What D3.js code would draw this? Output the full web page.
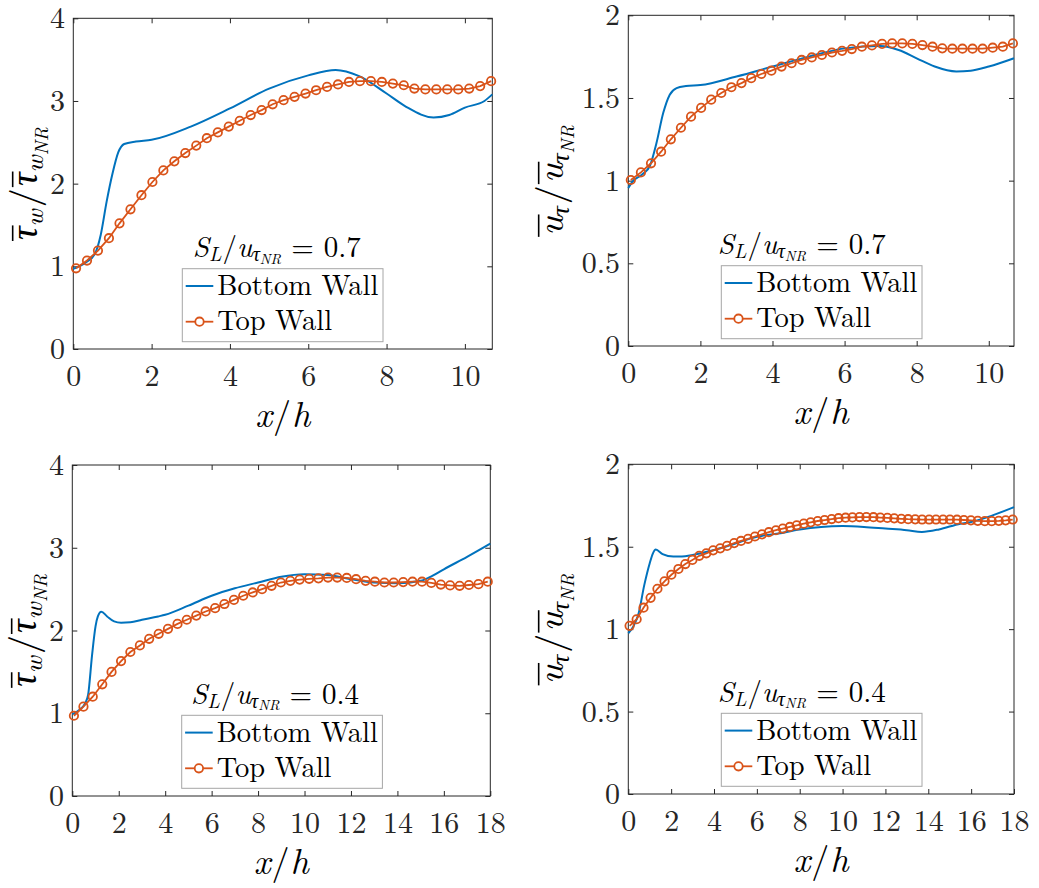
<!DOCTYPE html>
<html><head><meta charset="utf-8">
<script src="https://cdn.jsdelivr.net/npm/d3@7"></script>
</head><body style="margin:0">
<svg id="c" width="1039" height="888"></svg>
<script>
// ---------------- data ----------------
const xTicksShort = [0, 2, 4, 6, 8, 10];
const xTicksLong = [0, 2, 4, 6, 8, 10, 12, 14, 16, 18];
const yTicksTau = [0, 1, 2, 3, 4];
const yTicksU = [0, 0.5, 1, 1.5, 2];
const seriesNames = ["Bottom Wall", "Top Wall"];
const ratioLabels = ["0.7", "0.4"];

// Panel 1: tau_w ratio, S_L/u = 0.7
const bx1 = [0,0.3,0.55,0.7,0.85,1.0,1.15,1.3,1.6,2,3,4,5,6,6.7,7.3,8,8.5,9.2,9.6,10,10.5,10.7];
const by1 = [0.97,1.04,1.15,1.38,1.78,2.12,2.38,2.48,2.51,2.53,2.69,2.91,3.15,3.31,3.375,3.30,3.09,2.93,2.80,2.83,2.92,3.00,3.08];
const xTopShort = [0.07,0.35,0.63,0.91,1.18,1.46,1.74,2.02,2.30,2.58,2.86,3.14,3.41,3.69,3.97,4.25,4.53,4.81,5.09,5.37,5.65,5.93,6.20,6.48,6.76,7.04,7.32,7.60,7.88,8.16,8.44,8.71,8.99,9.27,9.55,9.83,10.11,10.39,10.67];
const tt1 = [0.976,1.07,1.19,1.34,1.52,1.69,1.86,2.02,2.16,2.27,2.37,2.46,2.55,2.62,2.69,2.76,2.83,2.89,2.96,3.01,3.05,3.09,3.13,3.17,3.20,3.23,3.24,3.24,3.23,3.21,3.19,3.15,3.14,3.14,3.14,3.14,3.15,3.18,3.24];

// Panel 2: u_tau ratio, S_L/u = 0.7
const bx2 = [0,0.1,0.4,0.6,0.78,0.97,1.15,1.34,1.6,2,3,4,5,6,7,7.5,8,8.5,9.1,9.5,10,10.7];
const by2 = [0.955,0.99,1.04,1.09,1.226,1.41,1.52,1.56,1.572,1.578,1.63,1.69,1.75,1.80,1.815,1.79,1.74,1.69,1.66,1.665,1.69,1.74];
const tt2 = [1.004,1.05,1.105,1.175,1.25,1.32,1.387,1.44,1.49,1.53,1.565,1.59,1.62,1.645,1.665,1.69,1.71,1.73,1.745,1.76,1.775,1.785,1.796,1.81,1.818,1.827,1.83,1.83,1.827,1.82,1.81,1.80,1.798,1.798,1.798,1.798,1.804,1.81,1.83];

// Panel 3: tau_w ratio, S_L/u = 0.4
const bx3 = [0,0.3,0.55,0.68,0.85,1.0,1.1,1.25,1.5,1.8,2.1,2.5,3,3.7,4,5,6,7,8,9,10,11,12,13,14,15,15.5,16,17,18];
const by3 = [0.99,1.04,1.12,1.22,1.7,2.05,2.17,2.227,2.17,2.11,2.095,2.10,2.13,2.17,2.19,2.30,2.42,2.51,2.58,2.65,2.68,2.67,2.62,2.58,2.57,2.60,2.66,2.74,2.89,3.05];
const xTop3 = [0.07,0.48,0.88,1.29,1.69,2.10,2.50,2.91,3.31,3.72,4.12,4.53,4.93,5.34,5.74,6.15,6.55,6.96,7.36,7.77,8.17,8.58,8.98,9.39,9.79,10.20,10.60,11.01,11.41,11.82,12.22,12.63,13.03,13.44,13.84,14.25,14.65,15.06,15.46,15.87,16.27,16.68,17.08,17.49,17.89];
const tt3 = [0.97,1.08,1.20,1.35,1.50,1.63,1.74,1.82,1.90,1.96,2.02,2.08,2.13,2.18,2.23,2.27,2.32,2.37,2.42,2.46,2.50,2.54,2.58,2.60,2.615,2.625,2.63,2.64,2.64,2.635,2.62,2.60,2.59,2.58,2.58,2.585,2.59,2.59,2.575,2.555,2.545,2.54,2.55,2.56,2.59];

// Panel 4: u_tau ratio, S_L/u = 0.4
const bx4 = [0,0.25,0.47,0.75,1.0,1.15,1.28,1.6,2.1,2.5,3,4,5,6,7,8,9,10,11,12,13,13.7,14.5,15.5,16,17,18];
const by4 = [0.975,1.02,1.09,1.27,1.40,1.46,1.483,1.455,1.44,1.44,1.45,1.48,1.52,1.56,1.58,1.605,1.62,1.625,1.62,1.61,1.60,1.59,1.605,1.64,1.65,1.69,1.74];
const xTop4 = [0.06,0.39,0.71,1.04,1.36,1.69,2.01,2.34,2.66,2.99,3.31,3.64,3.96,4.29,4.61,4.94,5.26,5.59,5.91,6.24,6.56,6.89,7.21,7.54,7.86,8.19,8.51,8.84,9.16,9.49,9.81,10.14,10.46,10.79,11.11,11.44,11.76,12.09,12.41,12.74,13.06,13.39,13.71,14.04,14.36,14.69,15.01,15.34,15.66,15.99,16.31,16.64,16.96,17.29,17.61,17.94];
const tt4 = [1.02,1.06,1.13,1.19,1.245,1.29,1.33,1.365,1.395,1.42,1.445,1.46,1.478,1.49,1.505,1.522,1.535,1.548,1.562,1.575,1.588,1.60,1.61,1.62,1.63,1.64,1.648,1.656,1.662,1.668,1.673,1.676,1.678,1.68,1.68,1.679,1.677,1.675,1.672,1.669,1.667,1.666,1.665,1.665,1.665,1.665,1.665,1.664,1.662,1.66,1.657,1.655,1.655,1.657,1.66,1.665];

// ---------------- layout ----------------
const FONT = 'Latin Modern Roman, Liberation Serif, serif';
const GREEK = 'Liberation Serif, serif';
const BLUE = '#0072BD', ORANGE = '#D95319', AX = '#262626';
const svg = d3.select('#c');

const panels = [
  {l:73.3, r:492.3, t:18.3, b:349, xMax:10.7, yMax:4, xT:xTicksShort, yT:yTicksTau, bx:bx1, by:by1, tx:xTopShort, ty:tt1, kind:'tau', ratio:ratioLabels[0], lx:37, leg:{x:182.3,y:268.7}, tit:{x:192.7,y:257}},
  {l:628.3, r:1014, t:15.3, b:346, xMax:10.7, yMax:2, xT:xTicksShort, yT:yTicksU, bx:bx2, by:by2, tx:xTopShort, ty:tt2, kind:'u', ratio:ratioLabels[0], lx:563, leg:{x:721.3,y:265.7}, tit:{x:717.7,y:254}},
  {l:72.3, r:490.3, t:465, b:796, xMax:18, yMax:4, xT:xTicksLong, yT:yTicksTau, bx:bx3, by:by3, tx:xTop3, ty:tt3, kind:'tau', ratio:ratioLabels[1], lx:36, leg:{x:181.7,y:715.3}, tit:{x:191,y:703.5}},
  {l:628.3, r:1014, t:464.3, b:794, xMax:18, yMax:2, xT:xTicksLong, yT:yTicksU, bx:bx4, by:by4, tx:xTop4, ty:tt4, kind:'u', ratio:ratioLabels[1], lx:563, leg:{x:721.3,y:713.3}, tit:{x:717.7,y:701.5}}
];

// Builds a math-like text from segments; overlined segments get a drawn bar.
function mathText(parent, segs, fs, anchor) {
  const g = parent.append('g');
  const t = g.append('text').attr('font-family', FONT).attr('font-size', fs).attr('fill', '#000')
    .attr('text-anchor', anchor || 'start');
  let cur = 0, idx = 0;
  const bars = [];
  segs.forEach(s => {
    const sp = t.append('tspan').text(s.t);
    if (s.fs) sp.attr('font-size', s.fs);
    if (s.it) sp.attr('font-style', 'italic');
    if (s.gr) sp.attr('font-family', GREEK);
    const sh = s.sh || 0;
    if (sh !== cur) sp.attr('dy', sh - cur);
    cur = sh;
    if (s.dx) sp.attr('dx', s.dx);
    if (s.ov) bars.push([idx, s.t.length, (s.fs || fs)]);
    idx += s.t.length;
  });
  const node = t.node();
  bars.forEach(([i, n, f]) => {
    const a = node.getStartPositionOfChar(i), b = node.getEndPositionOfChar(i + n - 1);
    g.append('line').attr('x1', a.x - 1).attr('x2', b.x + 1)
      .attr('y1', a.y - 0.64 * f).attr('y2', a.y - 0.64 * f)
      .attr('stroke', '#000').attr('stroke-width', 1.6);
  });
  return g;
}

panels.forEach(p => {
  const g = svg.append('g');
  const x = d3.scaleLinear().domain([0, p.xMax]).range([p.l, p.r]);
  const y = d3.scaleLinear().domain([0, p.yMax]).range([p.b, p.t]);

  // axes
  const fmt = d => String(d);
  const ax = [
    g.append('g').attr('transform', `translate(0,${p.b})`).call(d3.axisBottom(x).tickValues(p.xT).tickFormat(fmt).tickSize(-5).tickPadding(15.5)),
    g.append('g').attr('transform', `translate(0,${p.t})`).call(d3.axisTop(x).tickValues(p.xT).tickFormat('').tickSize(-5)),
    g.append('g').attr('transform', `translate(${p.l},0)`).call(d3.axisLeft(y).tickValues(p.yT).tickFormat(fmt).tickSize(-5).tickPadding(8.3)),
    g.append('g').attr('transform', `translate(${p.r},0)`).call(d3.axisRight(y).tickValues(p.yT).tickFormat('').tickSize(-5))
  ];
  ax.forEach(a => {
    a.attr('font-family', FONT);
    a.select('.domain').remove();
    a.selectAll('line').attr('stroke', AX).attr('stroke-width', 1);
    a.selectAll('text').attr('font-family', FONT).attr('font-size', 30).attr('fill', AX);
  });
  g.append('rect').attr('x', p.l).attr('y', p.t).attr('width', p.r - p.l).attr('height', p.b - p.t)
    .attr('fill', 'none').attr('stroke', AX).attr('stroke-width', 1);

  // bottom wall line
  const bData = p.bx.map((v, i) => [v, p.by[i]]);
  g.append('path').datum(bData)
    .attr('d', d3.line().x(d => x(d[0])).y(d => y(d[1])).curve(d3.curveMonotoneX))
    .attr('fill', 'none').attr('stroke', BLUE).attr('stroke-width', 2);

  // top wall line + markers
  const tData = p.tx.map((v, i) => [v, p.ty[i]]);
  g.append('path').datum(tData)
    .attr('d', d3.line().x(d => x(d[0])).y(d => y(d[1])))
    .attr('fill', 'none').attr('stroke', ORANGE).attr('stroke-width', 1.8);
  g.selectAll('circle.m').data(tData).enter().append('circle')
    .attr('cx', d => x(d[0])).attr('cy', d => y(d[1])).attr('r', 4.2)
    .attr('fill', 'none').attr('stroke', ORANGE).attr('stroke-width', 1.8);

  // legend
  const L = p.leg;
  g.append('rect').attr('x', L.x).attr('y', L.y).attr('width', 200.7).attr('height', 73)
    .attr('fill', '#fff').attr('stroke', '#a6a6a6').attr('stroke-width', 1);
  g.append('line').attr('x1', L.x + 3.4).attr('x2', L.x + 31).attr('y1', L.y + 17.3).attr('y2', L.y + 17.3)
    .attr('stroke', BLUE).attr('stroke-width', 2);
  g.append('line').attr('x1', L.x + 3.4).attr('x2', L.x + 31).attr('y1', L.y + 53).attr('y2', L.y + 53)
    .attr('stroke', ORANGE).attr('stroke-width', 1.8);
  g.append('circle').attr('cx', L.x + 17.2).attr('cy', L.y + 53).attr('r', 4.2)
    .attr('fill', '#fff').attr('stroke', ORANGE).attr('stroke-width', 1.8);
  g.append('text').attr('x', L.x + 35).attr('y', L.y + 26.5).attr('font-family', FONT).attr('font-size', 28.5)
    .attr('fill', '#000').text(seriesNames[0]);
  g.append('text').attr('x', L.x + 35).attr('y', L.y + 61.3).attr('font-family', FONT).attr('font-size', 28.5)
    .attr('fill', '#000').text(seriesNames[1]);

  // legend title
  mathText(g, [
    {t:'S', it:1}, {t:'L', it:1, fs:20, sh:4}, {t:'/', sh:0, dx:1}, {t:'u', it:1},
    {t:'τ', it:1, gr:1, fs:20, sh:4}, {t:'NR', it:1, fs:14.5, sh:6.5}, {t:'=', sh:0, dx:10}, {t:p.ratio, dx:10}
  ], 29).attr('transform', `translate(${p.tit.x},${p.tit.y})`);

  // x label
  mathText(g, [{t:'x', it:1}, {t:'/', dx:1}, {t:'h', it:1, dx:1}], 36, 'middle')
    .attr('transform', `translate(${(p.l + p.r) / 2},${p.b + 78})`);

  // y label
  const ySegs = p.kind === 'tau'
    ? [{t:'τ', it:1, gr:1, ov:1}, {t:'w', it:1, fs:26, sh:6}, {t:'/', sh:0, dx:2}, {t:'τ', it:1, gr:1, ov:1, dx:2}, {t:'w', it:1, fs:26, sh:6}, {t:'NR', it:1, fs:19, sh:11}]
    : [{t:'u', it:1, ov:1}, {t:'τ', it:1, gr:1, fs:26, sh:6}, {t:'/', sh:0, dx:2}, {t:'u', it:1, ov:1, dx:2}, {t:'τ', it:1, gr:1, fs:26, sh:6}, {t:'NR', it:1, fs:19, sh:11}];
  mathText(g, ySegs, 38, 'middle')
    .attr('transform', `translate(${p.lx},${(p.t + p.b) / 2}) rotate(-90)`);
});
</script>
</body></html>
